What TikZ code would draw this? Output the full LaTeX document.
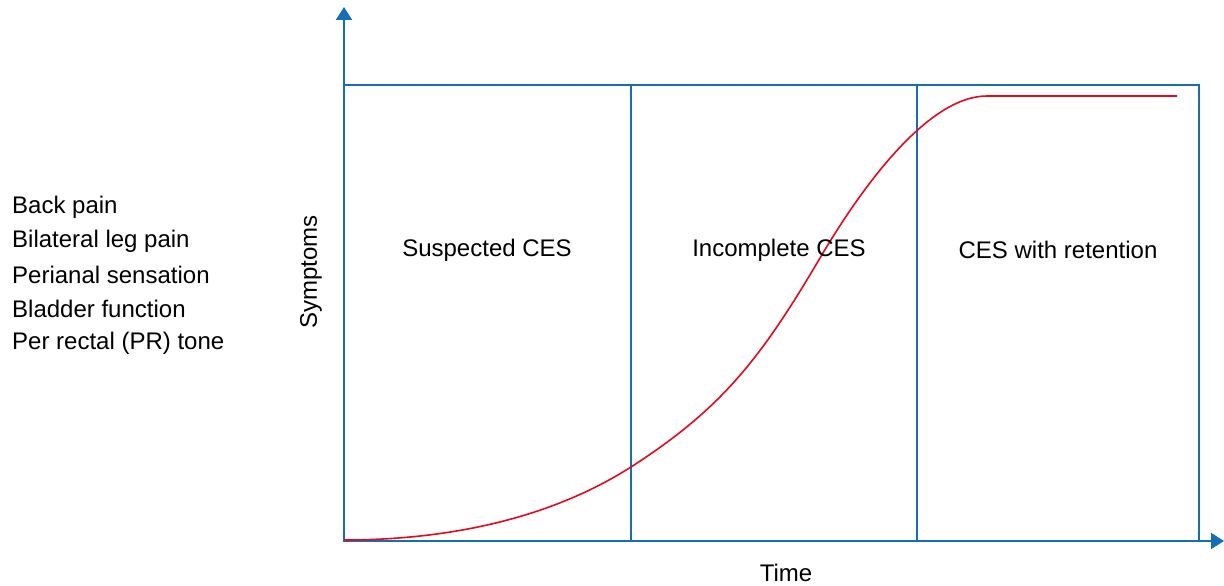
\documentclass[tikz,border=0pt]{standalone}
\usepackage{fontspec}
\setmainfont{Liberation Sans}
\usetikzlibrary{arrows.meta}
\definecolor{axblue}{RGB}{20,110,185}
\definecolor{curvered}{RGB}{225,10,30}
\begin{document}
\begin{tikzpicture}[x=1pt,y=-1pt,
  axisline/.style={draw=axblue,line width=2pt},
  boxline/.style={draw=axblue,line width=1.6pt},
  lbl/.style={font=\fontsize{24}{29}\selectfont,inner sep=0pt},
  curveline/.style={draw=curvered,line width=1.6pt}]
\useasboundingbox (0,0) rectangle (1224,586);
% coordinates
\coordinate (O) at (344,541);
\coordinate (ytop) at (344,7);
\coordinate (xend) at (1224,541);
\coordinate (b1) at (344,85);
\coordinate (b2) at (1199,541);
\coordinate (d1t) at (631,85);
\coordinate (d1b) at (631,541);
\coordinate (d2t) at (917,85);
\coordinate (d2b) at (917,541);
\coordinate (c0) at (344,540);
\coordinate (c1) at (631,467);
\coordinate (c2) at (820,258);
\coordinate (c3) at (987,96);
\coordinate (c4) at (1177,96);
% box
\draw[boxline] (b1) rectangle (b2);
\draw[boxline] (d1t) -- (d1b);
\draw[boxline] (d2t) -- (d2b);
% axes
\draw[axisline,-{Triangle[length=13pt,width=16pt]}] (O) -- (ytop);
\draw[axisline,-{Triangle[length=13pt,width=16pt]}] (O) -- (xend);
% curve
\draw[curveline] (c0) .. controls (450,540) and (551,518) .. (c1)
  .. controls (721,409) and (760,360) .. (c2)
  .. controls (860,190) and (927,96) .. (c3) -- (c4);
% labels
\node[lbl] (s1) at (487,250) {Suspected CES};
\node[lbl] (s2) at (779,250) {Incomplete CES};
\node[lbl] (s3) at (1058,250) {CES with retention};
\node[lbl,rotate=90] (ylab) at (311,272) {Symptoms};
\node[lbl] (xlab) at (786,573) {Time};
\node[lbl,anchor=west] (l1) at (12,207) {Back pain};
\node[lbl,anchor=west] (l2) at (12,241) {Bilateral leg pain};
\node[lbl,anchor=west] (l3) at (12,275) {Perianal sensation};
\node[lbl,anchor=west] (l4) at (12,309) {Bladder function};
\node[lbl,anchor=west] (l5) at (12,343) {Per rectal (PR) tone};
\end{tikzpicture}
\end{document}
